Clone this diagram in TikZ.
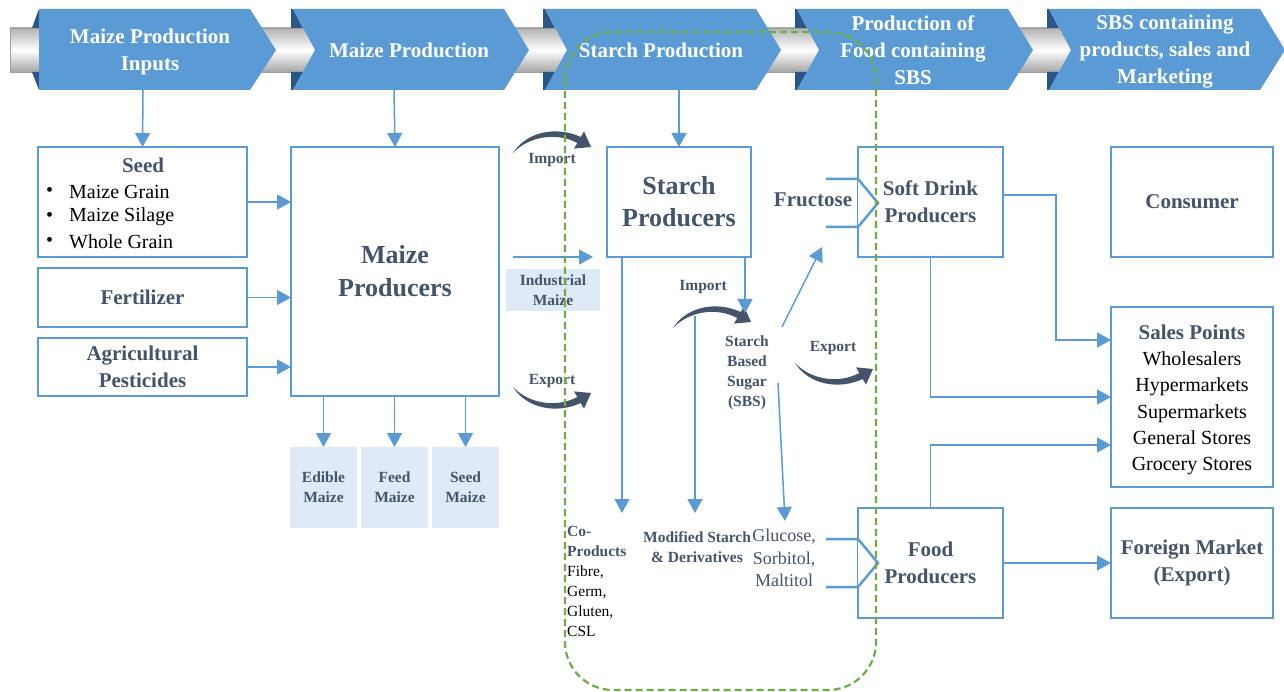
\documentclass[tikz,border=0pt]{standalone}
\usepackage{fontspec}
\setmainfont{Liberation Serif}
\usetikzlibrary{arrows.meta,calc}
\definecolor{blu}{HTML}{5B9BD5}
\definecolor{slate}{HTML}{44546A}
\definecolor{lightfill}{HTML}{DEEAF6}
\definecolor{darkchev}{HTML}{2A5788}
\definecolor{grn}{HTML}{70AD47}
\newcommand\myfs[2]{\fontsize{#1}{#2}\selectfont}
\newcommand\chevB[1]{%
  \fill[darkchev] (#1,9) -- ({#1+2},9) -- ({#1+12},28) -- (#1,28) -- cycle;
  \fill[darkchev] (#1,72) -- ({#1+12},72) -- ({#1+2},90) -- (#1,90) -- cycle;
  \fill[blu] ({#1+2},9) -- ({#1+213},9) -- ({#1+238},50) -- ({#1+213},90) -- ({#1+2},90) -- ({#1+24},50) -- cycle;}
\newcommand\crescentpath{\fill[slate] (0,0) .. controls (14,-22) and (44,-27) .. (67.7,-16) -- (71,-21.6) -- (78,-6) -- (61,-4.4) -- (64.3,-10) .. controls (44,-21) and (16,-17) .. (0,0) -- cycle;}
\tikzset{
  box/.style={draw=blu, line width=2.4pt, inner sep=0pt, outer sep=0pt, fill=white, align=center, text=slate, font=\bfseries\myfs{21}{27}},
  fillbox/.style={fill=lightfill, inner sep=0pt, outer sep=0pt, align=center, text=slate, font=\bfseries\myfs{15.5}{20}},
  conn/.style={draw=blu, line width=1.5pt, -{Triangle[length=14pt,width=15pt]}},
  chevtext/.style={text=white, font=\bfseries\myfs{21}{27}, align=center, inner sep=0pt},
  lbl/.style={text=slate, font=\bfseries\myfs{15.5}{20}, align=center, inner sep=0pt},
  hdr/.style={text=slate, font=\bfseries\myfs{21}{27}, align=center, inner sep=0pt},
  item/.style={text=black, font=\myfs{20}{25}, inner sep=0pt, anchor=west},
  bracket/.style={draw=blu, line width=2.5pt, line join=miter},
}
\begin{document}
\begin{tikzpicture}[x=1pt,y=-1pt]
\useasboundingbox (0,0) rectangle (1284,692);
\fill[white] (0,0) rectangle (1284,692);
% tube
\shade[top color=gray!60, bottom color=gray!70, middle color=white] (10,28) rectangle (1262,72);
\draw[gray!75, line width=0.8pt] (10,28) rectangle (1262,72);
% chevrons
\fill[darkchev] (39,9) -- (32,28) -- (39,28) -- cycle;
\fill[darkchev] (39,90) -- (32,72) -- (39,72) -- cycle;
\fill[blu] (39,9) -- (250,9) -- (276,50) -- (250,90) -- (39,90) -- cycle;
\chevB{291}
\chevB{543}
\chevB{795}
\chevB{1047}
\node[chevtext] (ch1) at (150,52) {Maize Production\\Inputs};
\node[chevtext] (ch2) at (409,50) {Maize Production};
\node[chevtext] (ch3) at (661,50) {Starch Production};
\node[chevtext] (ch4) at (913,50) {Production of\\Food containing\\SBS};
\node[chevtext] (ch5) at (1165,52) {SBS containing\\products, sales and\\Marketing};
\coordinate (ch1b) at (143,90);
\coordinate (ch2b) at (394,90);
\coordinate (ch3b) at (679,90);
% left boxes
\node[box, minimum width=209pt, minimum height=110pt] (seedbox) at (142.5,202) {};
\node[hdr] (seedhd) at (143,165) {Seed};
\node[item] (bu1) at (46,192) {\textbullet};
\node[item] (bu2) at (46,217) {\textbullet};
\node[item] (bu3) at (46,242) {\textbullet};
\node[item] (it1) at (69,192) {Maize Grain};
\node[item] (it2) at (69,217) {Maize Silage};
\node[item] (it3) at (69,242) {Whole Grain};
\node[box, minimum width=209pt, minimum height=59pt] (fert) at (142.5,297.5) {Fertilizer};
\node[box, minimum width=209pt, minimum height=58pt] (pest) at (142.5,367) {Agricultural\\Pesticides};
\node[box, font=\bfseries\myfs{26}{33}, minimum width=208pt, minimum height=249pt] (mprod) at (395,271.5) {Maize\\Producers};
\node[fillbox, minimum width=67pt, minimum height=81pt] (edible) at (323.5,487.5) {Edible\\Maize};
\node[fillbox, minimum width=67pt, minimum height=81pt] (feed) at (394.5,487.5) {Feed\\Maize};
\node[fillbox, minimum width=67pt, minimum height=81pt] (seedm) at (465.5,487.5) {Seed\\Maize};
\draw[conn] (ch1b) -- (seedbox.north);
\draw[conn] (ch2b) -- (mprod.north);
\draw[conn] (seedbox.east) -- (seedbox.east -| mprod.west);
\draw[conn] (fert.east) -- (fert.east -| mprod.west);
\draw[conn] (pest.east) -- (pest.east -| mprod.west);
\draw[conn] (mprod.south -| edible.north) -- (edible.north);
\draw[conn] (mprod.south -| feed.north) -- (feed.north);
\draw[conn] (mprod.south -| seedm.north) -- (seedm.north);
% middle
\node[fillbox, minimum width=94pt, minimum height=42pt] (indm) at (553,290) {Industrial\\Maize};
\node[box, font=\bfseries\myfs{26}{32}, minimum width=144pt, minimum height=110pt] (starch) at (679,202) {Starch\\Producers};
\draw[conn] (ch3b) -- (starch.north);
\coordinate (hs) at (513,257);
\coordinate (he) at (593,257);
\draw[conn] (hs) -- (he);
\begin{scope}[shift={(513,153)}] \crescentpath \end{scope}
\begin{scope}[shift={(513,387)},yscale=-1] \crescentpath \end{scope}
\begin{scope}[shift={(673,328)}] \crescentpath \end{scope}
\begin{scope}[shift={(795,363)},yscale=-1] \crescentpath \end{scope}
\node[lbl] (imp1) at (552,160) {Import};
\node[lbl] (exp1) at (552,381) {Export};
\node[lbl] (imp2) at (703,287) {Import};
\node[lbl] (exp2) at (833,348) {Export};
\node[lbl] (sbs) at (747,373) {Starch\\Based\\Sugar\\(SBS)};
\node[hdr] (fruc) at (813,200) {Fructose};
\coordinate (coend) at (622,513);
\draw[conn] (starch.south -| coend) -- (coend);
\coordinate (sbsin) at (745,313);
\draw[conn] (starch.south -| sbsin) -- (sbsin);
\coordinate (mods) at (695,316);
\coordinate (mode) at (695,513);
\draw[conn] (mods) -- (mode);
\coordinate (sf1) at (782,327);
\coordinate (sf2) at (822,247);
\draw[conn] (sf1) -- (sf2);
\coordinate (sg1) at (778,383);
\coordinate (sg2) at (785,521);
\draw[conn] (sg1) -- (sg2);
\node[lbl, align=left, anchor=west] (coprod) at (567,581) {Co-\\Products\\\textcolor{black}{\mdseries Fibre,}\\\textcolor{black}{\mdseries Germ,}\\\textcolor{black}{\mdseries Gluten,}\\\textcolor{black}{\mdseries CSL}};
\node[lbl] (modst) at (697,547) {Modified Starch\\\& Derivatives};
\node[text=slate, font=\myfs{18}{22.5}, align=center, inner sep=0pt] (gluc) at (784,558) {Glucose,\\Sorbitol,\\Maltitol};
% right
\node[box, minimum width=145pt, minimum height=110pt] (soft) at (930.5,202) {Soft Drink\\Producers};
\node[box, minimum width=145pt, minimum height=110pt] (food) at (930.5,563) {Food\\Producers};
\node[box, minimum width=162pt, minimum height=110pt] (cons) at (1192,202) {Consumer};
\node[box, minimum width=162pt, minimum height=180pt] (sales) at (1192,397) {};
\node[text=black, font=\myfs{20}{26.3}, align=center, inner sep=0pt] (salestxt) at (1192,400) {\textcolor{slate}{\bfseries\myfs{21}{26.3}Sales Points}\\Wholesalers\\Hypermarkets\\Supermarkets\\General Stores\\Grocery Stores};
\node[box, minimum width=162pt, minimum height=110pt] (foreign) at (1192,563) {Foreign Market\\(Export)};
% brackets
\fill[white] (858,179) -- (878,203) -- (858,227) -- cycle;
\draw[bracket] (826,179) -- (858,179) -- (878,203) -- (858,227) -- (826,227);
\fill[white] (858,539) -- (878,563) -- (858,587) -- cycle;
\draw[bracket] (826,539) -- (858,539) -- (878,563) -- (858,587) -- (826,587);
\coordinate (sd1) at (1003,195);
\coordinate (sd2) at (1056,195);
\coordinate (sd3) at (1056,340);
\draw[conn] (sd1) -- (sd2) -- (sd3) -- (sd3 -| sales.west);
\draw[conn] (soft.south) -- (soft.south |- 0,397) -- (sales.west |- 0,397);
\draw[conn] (food.north) -- (food.north |- 0,445) -- (sales.west |- 0,445);
\draw[conn] (food.east) -- (foreign.west);
% green dashed region
\draw[grn, line width=2.2pt, dash pattern=on 7pt off 4pt, rounded corners=48pt] (565,32) rectangle (876,690);
\end{tikzpicture}
\end{document}
